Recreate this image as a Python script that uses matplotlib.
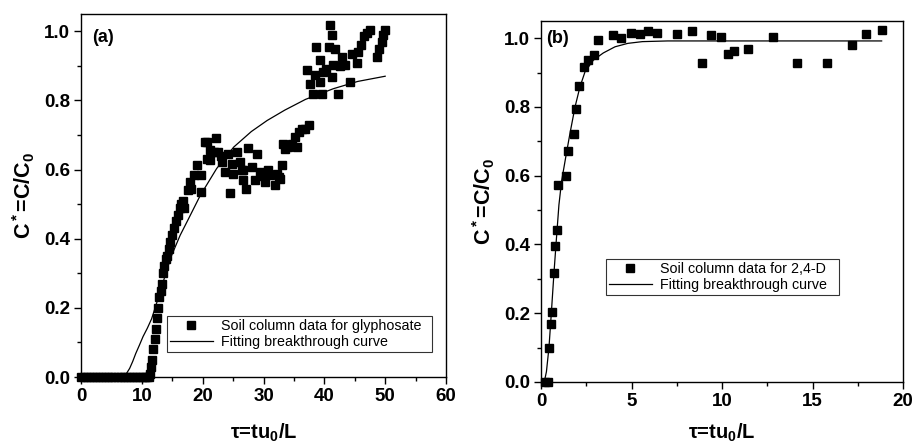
import matplotlib
matplotlib.use("Agg")
import matplotlib.pyplot as plt
from matplotlib.ticker import MultipleLocator

plt.rcParams['font.family'] = ['Liberation Sans', 'DejaVu Sans']
plt.rcParams['mathtext.fontset'] = 'custom'
plt.rcParams['mathtext.rm'] = 'Liberation Sans:bold'
plt.rcParams['mathtext.bf'] = 'Liberation Sans:bold'
plt.rcParams['mathtext.it'] = 'Liberation Sans:bold'
plt.rcParams['mathtext.default'] = 'bf'

# ---------------- Panel (a): glyphosate ----------------
a_data_x = [0, 0.5, 1, 1.5, 2, 2.5, 3, 3.5, 4, 4.5, 5, 5.5, 6, 6.5, 7, 7.5, 8, 8.5, 9, 9.5, 10, 10.5,
            10.8, 11.1, 11.3, 11.5, 11.7, 11.9, 12.1, 12.3, 12.5, 12.7, 12.9, 13.1, 13.3, 13.5, 13.7, 13.9,
            14.1, 14.4, 14.7, 15.0, 15.3, 15.6, 15.9, 16.2, 16.5, 16.8, 17.0,
            17.6, 17.9, 18.0, 18.5, 19.0, 19.8, 19.8, 20.4, 20.7, 20.7, 21.2, 21.2, 21.8, 22.2, 22.6, 23.0,
            23.1, 23.7, 24.2, 24.5, 24.8, 25.0, 25.6, 26.1, 26.4, 26.7, 26.7, 27.2, 27.5, 28.1, 28.6, 28.9,
            29.4, 29.7, 30.2, 30.8, 31.1, 31.9, 32.2, 32.5, 32.7, 33.0,
            33.2, 33.6, 34.1, 34.7, 35.1, 35.5, 35.8, 36.3, 36.9, 37.4,
            37.1, 37.6, 38.2, 38.5, 38.6, 39.3, 39.3, 39.6, 39.8, 40.2, 40.7, 41.0, 41.2, 41.2, 41.5, 41.8,
            42.3, 42.5, 42.9, 43.4, 44.2, 44.5, 45.3, 45.6, 46.0, 46.5, 47.0, 47.5,
            48.6, 49.0, 49.4, 49.7, 50.0]
a_data_y = [0, 0, 0, 0, 0, 0, 0, 0, 0, 0, 0, 0, 0, 0, 0, 0, 0, 0, 0, 0, 0, 0,
            0, 0, 0.01, 0.03, 0.05, 0.08, 0.11, 0.14, 0.17, 0.20, 0.23, 0.25, 0.27, 0.30, 0.32, 0.34,
            0.35, 0.37, 0.39, 0.41, 0.43, 0.45, 0.47, 0.49, 0.50, 0.51, 0.49,
            0.54, 0.564, 0.545, 0.584, 0.613, 0.584, 0.536, 0.68, 0.68, 0.632, 0.656, 0.627, 0.65, 0.69, 0.651, 0.64,
            0.622, 0.593, 0.646, 0.531, 0.617, 0.588, 0.651, 0.622, 0.598, 0.569, 0.598, 0.545, 0.661, 0.608, 0.569, 0.644,
            0.593, 0.58, 0.564, 0.598, 0.583, 0.555, 0.588, 0.579, 0.574, 0.613,
            0.675, 0.66, 0.665, 0.675, 0.694, 0.665, 0.709, 0.718, 0.718, 0.728,
            0.887, 0.847, 0.82, 0.873, 0.955, 0.916, 0.853, 0.82, 0.882, 0.89, 0.955, 1.019, 0.988, 0.868, 0.902, 0.95,
            0.82, 0.90, 0.926, 0.902, 0.853, 0.935, 0.907, 0.94, 0.96, 0.985, 0.995, 1.003,
            0.926, 0.95, 0.97, 0.99, 1.003]

a_fit_x = [0, 6.9, 7.4, 8.0, 8.5, 9.0, 9.6, 10.2, 10.9, 11.6, 12.4, 13.3, 14.1, 14.9, 16.3, 17.6, 19.6, 22.3,
           25.1, 28.0, 30.6, 33.5, 36.9, 41.5, 45.5, 50.0]
a_fit_y = [0, 0, 0.008, 0.025, 0.045, 0.068, 0.092, 0.117, 0.141, 0.168, 0.212, 0.262, 0.31, 0.352, 0.41, 0.455,
           0.525, 0.603, 0.665, 0.71, 0.742, 0.772, 0.803, 0.834, 0.855, 0.87]

# ---------------- Panel (b): 2,4-D ----------------
b_data_x = [0.2, 0.4, 0.44, 0.53, 0.63, 0.72, 0.77, 0.87, 0.96, 1.38, 1.51, 1.80, 1.93, 2.12, 2.36, 2.61, 2.91,
            3.17, 3.96, 4.40, 4.96, 5.47, 5.89, 6.43, 7.51, 8.33, 8.88, 9.37, 9.93, 10.35, 10.66, 11.45,
            12.80, 14.16, 15.78, 17.16, 17.96, 18.82]
b_data_y = [0.0, 0.0, 0.098, 0.168, 0.204, 0.316, 0.395, 0.442, 0.573, 0.60, 0.672, 0.721, 0.794, 0.860, 0.915, 0.936, 0.951,
            0.996, 1.008, 1.002, 1.016, 1.013, 1.021, 1.016, 1.011, 1.021, 0.929, 1.009, 1.004, 0.953, 0.962, 0.968,
            1.004, 0.928, 0.928, 0.981, 1.012, 1.023]

b_fit_x = [0.18, 0.30, 0.44, 0.57, 0.72, 0.87, 0.99, 1.14, 1.36, 1.60, 1.88, 2.15, 2.43, 2.89, 3.44, 4.09, 4.8, 5.6, 7.0, 18.82]
b_fit_y = [0.0, 0.03, 0.10, 0.20, 0.32, 0.43, 0.515, 0.585, 0.652, 0.723, 0.80, 0.858, 0.902, 0.936, 0.957, 0.975, 0.985, 0.99, 0.992, 0.992]

W, H = 915, 448
fig = plt.figure(figsize=(W / 100, H / 100), dpi=100)

ax_a = fig.add_axes([81 / W, 1 - 377 / H, 365 / W, 363 / H])
ax_b = fig.add_axes([541 / W, 1 - 382 / H, 362 / W, 361 / H])


def style(ax, xmax, xmaj, xmin, xpad):
    ax.set_xlim(0, xmax)
    ax.set_ylim(0, 1.05)
    ax.xaxis.set_major_locator(MultipleLocator(xmaj))
    ax.xaxis.set_minor_locator(MultipleLocator(xmin))
    ax.yaxis.set_major_locator(MultipleLocator(0.2))
    ax.yaxis.set_minor_locator(MultipleLocator(0.1))
    ax.yaxis.set_major_formatter(plt.FuncFormatter(lambda v, p: f'{v:.1f}'))
    ax.tick_params(which='major', direction='out', length=5, width=1.0, labelsize=13.5, pad=3)
    ax.tick_params(which='minor', direction='out', length=3, width=1.0)
    ax.tick_params(top=False, right=False)
    for lab in ax.get_xticklabels() + ax.get_yticklabels():
        lab.set_fontweight('bold')
    for sp in ax.spines.values():
        sp.set_linewidth(1.0)
    ax.set_xlabel('τ=tu$_0$/L', fontsize=14.5, fontweight='bold', labelpad=xpad)
    ax.set_ylabel('C$^*$=C/C$_0$', fontsize=15.5, fontweight='bold', labelpad=5)


style(ax_a, 60, 10, 5, 12)
ax_a.plot(a_data_x, a_data_y, 's', color='black', markersize=5.8, clip_on=False,
          label='Soil column data for glyphosate', zorder=3)
ax_a.plot(a_fit_x, a_fit_y, '-', color='black', linewidth=0.9, label='Fitting breakthrough curve', zorder=2)
ax_a.text(0.03, 0.96, '(a)', transform=ax_a.transAxes, fontsize=13, fontweight='bold', va='top', ha='left')
leg_a = ax_a.legend(loc='lower left', bbox_to_anchor=(0.235, 0.068, 0.727, 0.105), mode='expand',
                    fontsize=10.3, frameon=True, fancybox=False, borderpad=0.2, handlelength=3.0,
                    handletextpad=0.6, labelspacing=0.15, borderaxespad=0)
leg_a.get_frame().set_edgecolor('black')
leg_a.get_frame().set_linewidth(0.8)

style(ax_b, 20, 5, 2.5, 8)
ax_b.plot(b_data_x, b_data_y, 's', color='black', markersize=5.4, clip_on=False,
          label='Soil column data for 2,4-D', zorder=3)
ax_b.plot(b_fit_x, b_fit_y, '-', color='black', linewidth=0.9, label='Fitting breakthrough curve', zorder=2)
ax_b.text(0.014, 0.975, '(b)', transform=ax_b.transAxes, fontsize=13, fontweight='bold', va='top', ha='left')
leg_b = ax_b.legend(loc='lower left', bbox_to_anchor=(0.179, 0.241, 0.645, 0.106), mode='expand',
                    fontsize=10.3, frameon=True, fancybox=False, borderpad=0.2, handlelength=3.0,
                    handletextpad=0.6, labelspacing=0.15, borderaxespad=0)
leg_b.get_frame().set_edgecolor('black')
leg_b.get_frame().set_linewidth(0.8)

fig.savefig('out.png', dpi=100)
